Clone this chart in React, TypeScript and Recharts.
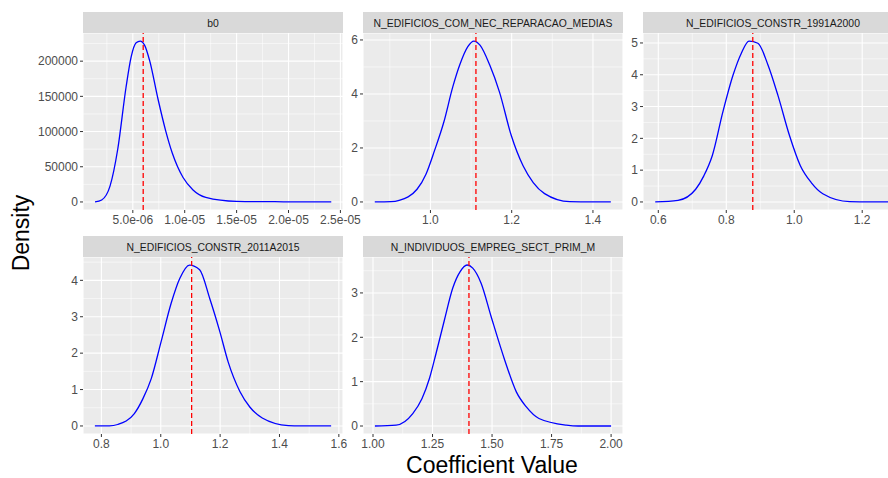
import React from 'react';
import { LineChart, Line, XAxis, YAxis, CartesianGrid, ReferenceLine } from 'recharts';

const FONT = '"Liberation Sans", Arial, sans-serif';

// ---- b0 ----
const b0X = [1.357e-6, 2.0e-6, 2.81e-6, 3.55e-6, 4.35e-6, 4.84e-6, 5.32e-6, 5.71e-6, 6.13e-6, 6.61e-6, 7.42e-6, 8.16e-6, 8.8e-6, 9.84e-6, 1.08e-5, 1.203e-5, 1.499e-5, 1.951e-5, 2.412e-5];
const b0Y = [0, 2800, 22800, 75200, 163300, 206100, 226100, 228500, 222800, 201400, 146600, 101400, 69500, 34700, 17100, 6600, 900, 250, 0];
const b0Mean = 6.0e-6;

// ---- N_EDIFICIOS_COM_NEC_REPARACAO_MEDIAS ----
const repX = [0.863, 0.903, 0.923, 0.967, 0.989, 1.01, 1.033, 1.055, 1.072, 1.092, 1.107, 1.122, 1.146, 1.17, 1.199, 1.228, 1.253, 1.281, 1.343, 1.397, 1.444];
const repY = [0, 0.01, 0.06, 0.47, 1.03, 1.9, 2.96, 4.26, 5.07, 5.75, 5.96, 5.81, 5.07, 4.07, 2.46, 1.34, 0.72, 0.31, 0.01, 0, 0];
const repMean = 1.112;

// ---- N_EDIFICIOS_CONSTR_1991A2000 ----
const c91X = [0.591, 0.658, 0.71, 0.734, 0.759, 0.79, 0.82, 0.844, 0.867, 0.893, 0.923, 0.952, 0.986, 1.018, 1.05, 1.084, 1.163, 1.222, 1.29];
const c91Y = [0, 0.05, 0.4, 0.82, 1.46, 2.83, 3.99, 4.67, 5.06, 4.99, 4.3, 3.35, 2.09, 1.14, 0.61, 0.26, 0.01, 0, 0];
const c91Mean = 0.878;

// ---- N_EDIFICIOS_CONSTR_2011A2015 ----
const c11X = [0.778, 0.827, 0.855, 0.911, 0.94, 0.968, 1.001, 1.035, 1.064, 1.097, 1.131, 1.165, 1.199, 1.227, 1.267, 1.3, 1.342, 1.43, 1.469, 1.574];
const c11Y = [0, 0, 0.04, 0.34, 0.75, 1.3, 2.31, 3.37, 4.05, 4.42, 4.29, 3.5, 2.59, 1.76, 0.94, 0.52, 0.22, 0.01, 0, 0];
const c11Mean = 1.104;

// ---- N_INDIVIDUOS_EMPREG_SECT_PRIM_M ----
const empX = [1.008, 1.097, 1.167, 1.206, 1.237, 1.265, 1.3, 1.335, 1.366, 1.395, 1.419, 1.454, 1.496, 1.553, 1.602, 1.644, 1.697, 1.812, 1.862, 2.0];
const empY = [0, 0.02, 0.28, 0.62, 1.07, 1.64, 2.39, 3.11, 3.48, 3.63, 3.56, 3.22, 2.47, 1.49, 0.77, 0.43, 0.17, 0.02, 0, 0];
const empMean = 1.403;

const stripLabels = ['b0', 'N_EDIFICIOS_COM_NEC_REPARACAO_MEDIAS', 'N_EDIFICIOS_CONSTR_1991A2000', 'N_EDIFICIOS_CONSTR_2011A2015', 'N_INDIVIDUOS_EMPREG_SECT_PRIM_M'];

const b0XTicks = [5e-6, 1e-5, 1.5e-5, 2e-5, 2.5e-5];
const b0XMinor = [2.5e-6, 7.5e-6, 1.25e-5, 1.75e-5, 2.25e-5];
const b0YTicks = [0, 50000, 100000, 150000, 200000];
const b0YMinor = [25000, 75000, 125000, 175000, 225000];

const repXTicks = [1.0, 1.2, 1.4];
const repXMinor = [0.9, 1.1, 1.3];
const repYTicks = [0, 2, 4, 6];
const repYMinor = [1, 3, 5];

const c91XTicks = [0.6, 0.8, 1.0, 1.2];
const c91XMinor = [0.7, 0.9, 1.1, 1.3];
const c91YTicks = [0, 1, 2, 3, 4, 5];
const c91YMinor = [0.5, 1.5, 2.5, 3.5, 4.5];

const c11XTicks = [0.8, 1.0, 1.2, 1.4, 1.6];
const c11XMinor = [0.9, 1.1, 1.3, 1.5];
const c11YTicks = [0, 1, 2, 3, 4];
const c11YMinor = [0.5, 1.5, 2.5, 3.5, 4.5];

const empXTicks = [1.0, 1.25, 1.5, 1.75, 2.0];
const empXMinor = [1.125, 1.375, 1.625, 1.875];
const empYTicks = [0, 1, 2, 3];
const empYMinor = [0.5, 1.5, 2.5, 3.5];

const fmtSci = (v: number) => {
  const [m, e] = v.toExponential(1).split('e');
  const sign = e[0] === '-' ? '-' : '+';
  const digits = e.replace(/[+-]/, '').padStart(2, '0');
  return `${m}e${sign}${digits}`;
};
const fmt1 = (v: number) => v.toFixed(1);
const fmt2 = (v: number) => v.toFixed(2);
const fmtInt = (v: number) => String(Math.round(v));

const YW = 60;
const XH = 30;
const RM = 30;

type PanelProps = {
  left: number; top: number; w: number; h: number;
  xs: number[]; ys: number[]; mean: number;
  xDomain: [number, number]; yDomain: [number, number];
  xTicks: number[]; xMinor: number[]; yTicks: number[]; yMinor: number[];
  fx: (v: number) => string; fy: (v: number) => string;
};

function Panel(p: PanelProps) {
  const data = p.xs.map((x, i) => ({ x, y: p.ys[i] }));
  const tickStyle = { fill: '#4D4D4D', fontSize: 12, fontFamily: FONT };
  return (
    <div style={{ position: 'absolute', left: p.left - YW, top: p.top }}>
      <LineChart width={YW + p.w + RM} height={p.h + XH} data={data} margin={{ top: 0, right: RM, bottom: 0, left: 0 }}>
        <CartesianGrid fill="#EBEBEB" stroke="#FFFFFF" strokeWidth={1.1} />
        {p.xMinor.map((v) => (
          <ReferenceLine key={'xm' + v} x={v} stroke="#FFFFFF" strokeWidth={0.55} />
        ))}
        {p.yMinor.map((v) => (
          <ReferenceLine key={'ym' + v} y={v} stroke="#FFFFFF" strokeWidth={0.55} />
        ))}
        <XAxis
          dataKey="x" type="number" domain={p.xDomain} allowDataOverflow ticks={p.xTicks} interval={0}
          tickFormatter={p.fx} axisLine={false} tickLine={{ stroke: '#333333' }} tickSize={3} tickMargin={2}
          tick={tickStyle} height={XH}
        />
        <YAxis
          type="number" domain={p.yDomain} allowDataOverflow ticks={p.yTicks} interval={0}
          tickFormatter={p.fy} axisLine={false} tickLine={{ stroke: '#333333' }} tickSize={3} tickMargin={2}
          tick={tickStyle} width={YW}
        />
        <Line dataKey="y" type="monotone" stroke="#0000FF" strokeWidth={1.3} dot={false} isAnimationActive={false} />
        <ReferenceLine x={p.mean} stroke="#FF0000" strokeWidth={1.3} strokeDasharray="5 3" />
      </LineChart>
    </div>
  );
}

const strips = [
  { x: 83, y: 12, w: 260 },
  { x: 363, y: 12, w: 260 },
  { x: 643, y: 12, w: 260 },
  { x: 83, y: 236, w: 260 },
  { x: 363, y: 236, w: 260 },
];

export default function App() {
  return (
    <div style={{ position: 'absolute', left: 0, top: 0, width: 888, height: 478, overflow: 'hidden', background: '#FFFFFF' }}>
      <Panel left={83} top={33} w={260} h={177} xs={b0X} ys={b0Y} mean={b0Mean}
        xDomain={[2.0e-7, 2.525e-5]} yDomain={[-11430, 240000]}
        xTicks={b0XTicks} xMinor={b0XMinor} yTicks={b0YTicks} yMinor={b0YMinor} fx={fmtSci} fy={fmtInt} />
      <Panel left={363} top={33} w={260} h={177} xs={repX} ys={repY} mean={repMean}
        xDomain={[0.834, 1.474]} yDomain={[-0.298, 6.258]}
        xTicks={repXTicks} xMinor={repXMinor} yTicks={repYTicks} yMinor={repYMinor} fx={fmt1} fy={fmtInt} />
      <Panel left={643} top={33} w={260} h={177} xs={c91X} ys={c91Y} mean={c91Mean}
        xDomain={[0.555, 1.32]} yDomain={[-0.253, 5.313]}
        xTicks={c91XTicks} xMinor={c91XMinor} yTicks={c91YTicks} yMinor={c91YMinor} fx={fmt1} fy={fmtInt} />
      <Panel left={83} top={257} w={260} h={177} xs={c11X} ys={c11Y} mean={c11Mean}
        xDomain={[0.738, 1.614]} yDomain={[-0.221, 4.641]}
        xTicks={c11XTicks} xMinor={c11XMinor} yTicks={c11YTicks} yMinor={c11YMinor} fx={fmt1} fy={fmtInt} />
      <Panel left={363} top={257} w={260} h={177} xs={empX} ys={empY} mean={empMean}
        xDomain={[0.958, 2.05]} yDomain={[-0.18, 3.81]}
        xTicks={empXTicks} xMinor={empXMinor} yTicks={empYTicks} yMinor={empYMinor} fx={fmt2} fy={fmtInt} />
      <svg width={888} height={478} style={{ position: 'absolute', left: 0, top: 0, pointerEvents: 'none' }}>
        {strips.map((s, i) => (
          <g key={i}>
            <rect x={s.x} y={s.y} width={s.w} height={21} fill="#D9D9D9" />
            <text x={s.x + s.w / 2} y={s.y + 14.5} textAnchor="middle" fontSize={10.4} fontFamily={FONT} fill="#1A1A1A">
              {stripLabels[i]}
            </text>
          </g>
        ))}
        <text x={492} y={473} textAnchor="middle" fontSize={23} fontFamily={FONT} fill="#000000">Coefficient Value</text>
        <text x={0} y={0} transform="translate(29,233) rotate(-90)" textAnchor="middle" fontSize={23} fontFamily={FONT} fill="#000000">Density</text>
      </svg>
    </div>
  );
}
